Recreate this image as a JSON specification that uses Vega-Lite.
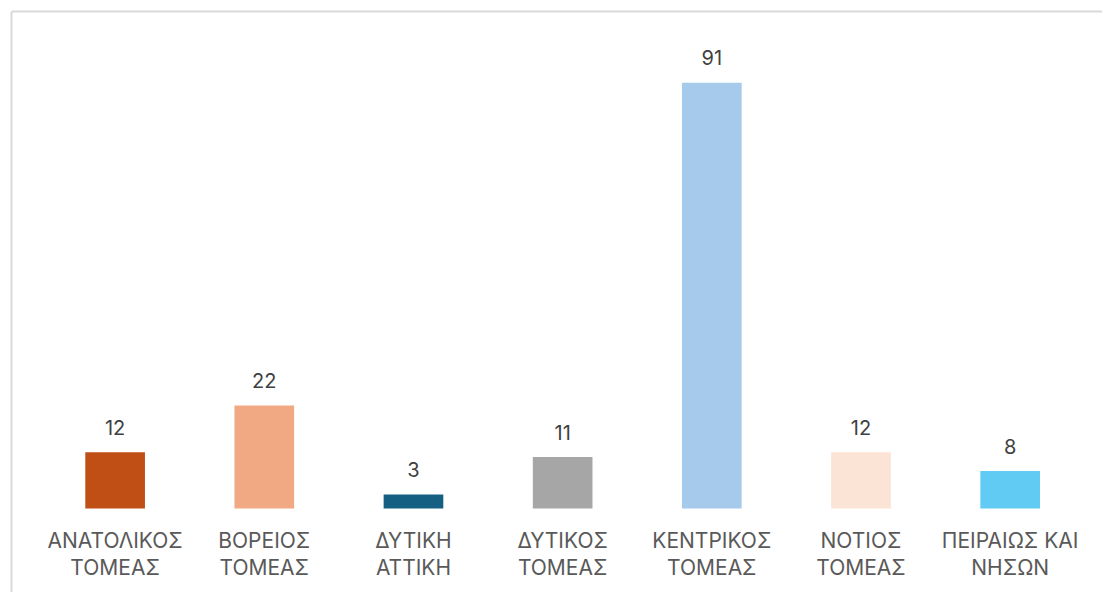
{
  "$schema": "https://vega.github.io/schema/vega-lite/v6.json",
  "autosize": "none",
  "padding": {"left": 11, "top": 11, "right": 0, "bottom": 0},
  "width": 1091,
  "height": 581,
  "background": "white",
  "config": {"view": {"stroke": null}},
  "data": {
    "values": [
      {"sector": "ΑΝΑΤΟΛΙΚΟΣ\nΤΟΜΕΑΣ", "count": 12, "color": "#C04F15"},
      {"sector": "ΒΟΡΕΙΟΣ\nΤΟΜΕΑΣ", "count": 22, "color": "#F1A983"},
      {"sector": "ΔΥΤΙΚΗ\nΑΤΤΙΚΗ", "count": 3, "color": "#156082"},
      {"sector": "ΔΥΤΙΚΟΣ\nΤΟΜΕΑΣ", "count": 11, "color": "#A6A6A6"},
      {"sector": "ΚΕΝΤΡΙΚΟΣ\nΤΟΜΕΑΣ", "count": 91, "color": "#A6CAEC"},
      {"sector": "ΝΟΤΙΟΣ\nΤΟΜΕΑΣ", "count": 12, "color": "#FBE3D6"},
      {"sector": "ΠΕΙΡΑΙΩΣ ΚΑΙ\nΝΗΣΩΝ", "count": 8, "color": "#61CBF3"}
    ]
  },
  "encoding": {
    "x": {
      "field": "sector",
      "type": "nominal",
      "sort": null,
      "scale": {"paddingInner": 0.6, "paddingOuter": 0.4568, "align": 0.5451},
      "axis": {
        "orient": "bottom",
        "title": null,
        "domain": false,
        "ticks": false,
        "tickSize": 0,
        "offset": -83.5,
        "labelAngle": 0,
        "labelExpr": "split(datum.label, '\\n')",
        "labelFont": "Inter",
        "labelFontSize": 21,
        "labelColor": "#595959",
        "labelLineHeight": 27.3,
        "labelBaseline": "top",
        "labelPadding": 22,
        "labelLimit": 300
      }
    },
    "y": {
      "field": "count",
      "type": "quantitative",
      "scale": {"domain": [-17.85, 106.33], "nice": false, "zero": false},
      "axis": {
        "title": null,
        "labels": false,
        "ticks": false,
        "domain": true,
        "domainColor": "#D9D9D9",
        "domainWidth": 2,
        "grid": true,
        "gridColor": "#D9D9D9",
        "gridWidth": 2,
        "values": [106.33]
      }
    }
  },
  "layer": [
    {
      "mark": {"type": "bar"},
      "encoding": {
        "color": {"field": "color", "type": "nominal", "scale": null, "legend": null}
      }
    },
    {
      "mark": {
        "type": "text",
        "baseline": "alphabetic",
        "dy": -17.5,
        "font": "Inter",
        "fontSize": 20,
        "color": "#404040"
      },
      "encoding": {
        "text": {"field": "count", "type": "quantitative"}
      }
    }
  ]
}
